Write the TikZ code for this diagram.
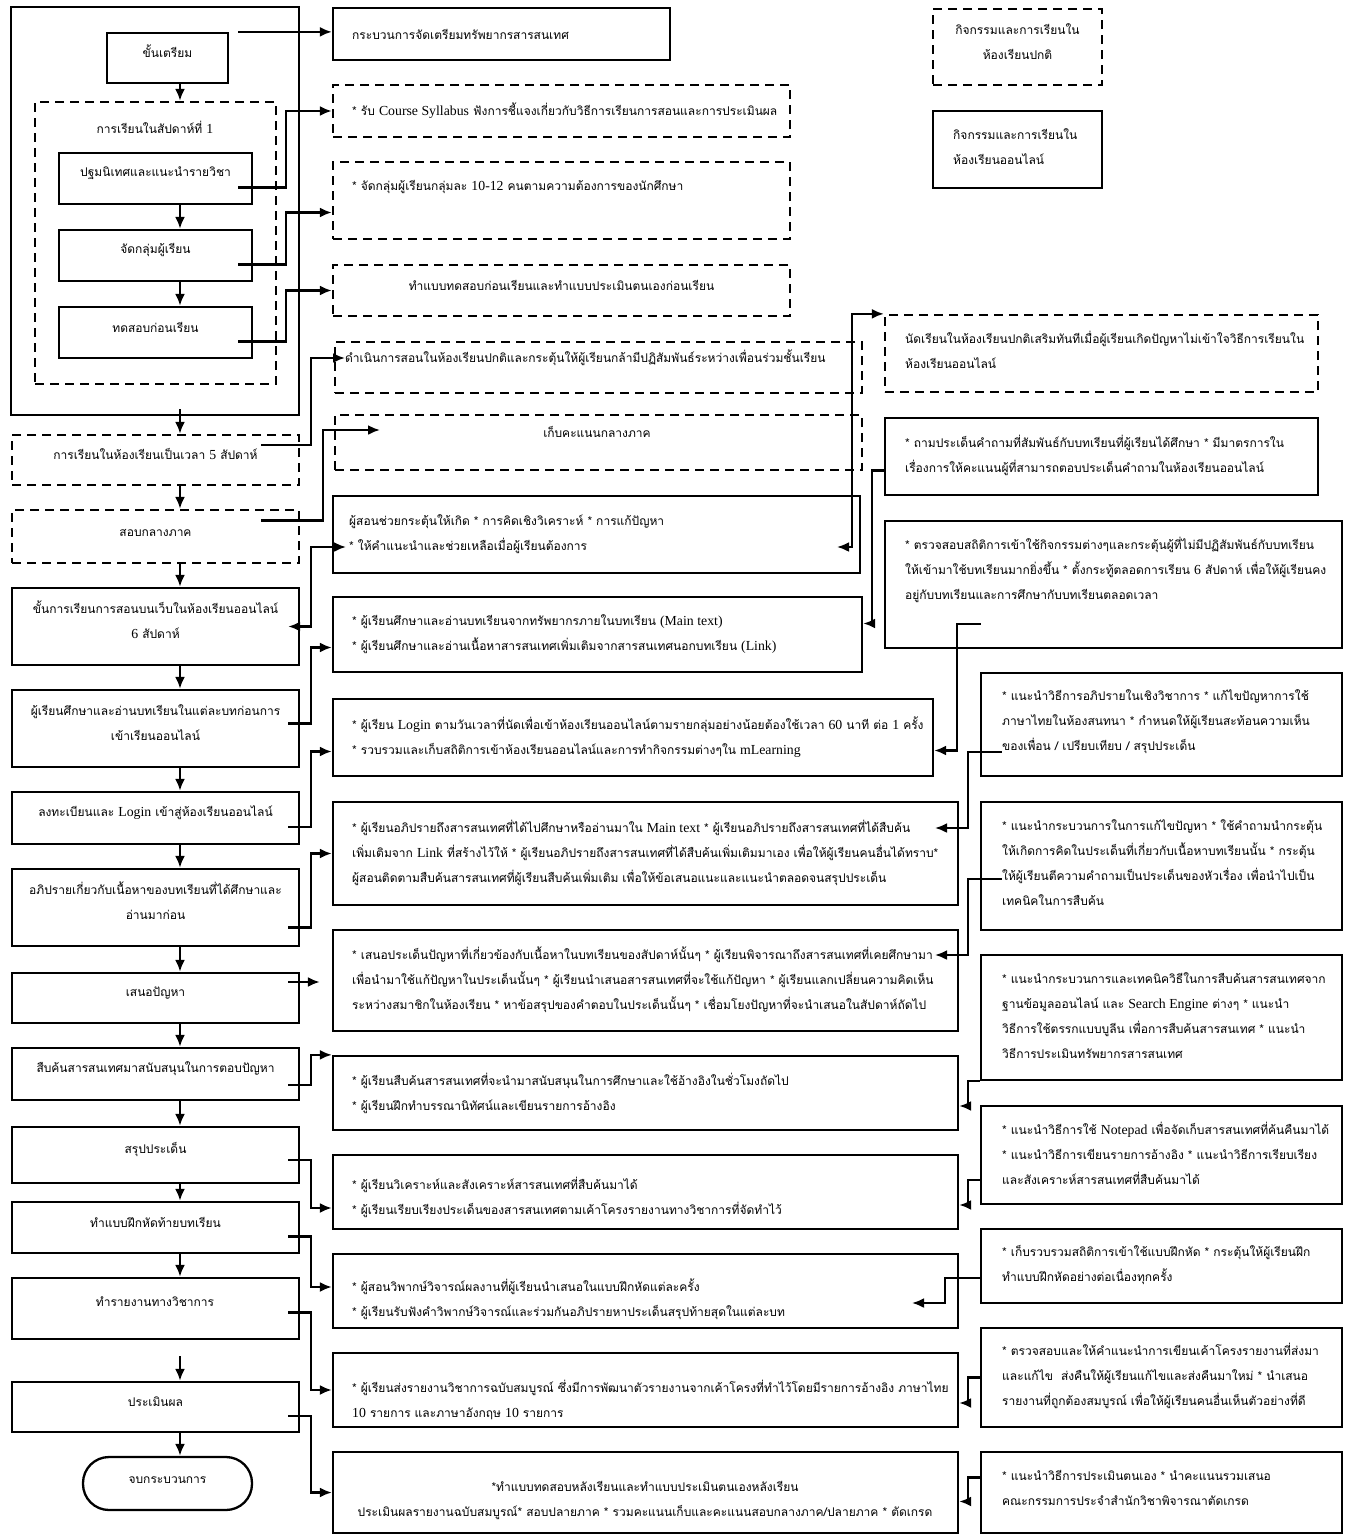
\documentclass[tikz,border=0pt]{standalone}
\usepackage{fontspec}
\setmainfont{Loma}[Script=Thai]
\newfontfamily\lat{Liberation Serif}[Scale=1.15]
\newcommand\en[1]{{\lat #1}}
\usetikzlibrary{arrows.meta,fit}

\tikzset{
  sbox/.style={draw, line width=2.3pt, inner sep=0pt, align=center},
  dbox/.style={sbox, dash pattern=on 9pt off 6pt},
  txt/.style={inner sep=0pt, anchor=west, align=left},
  ctxt/.style={inner sep=0pt, align=center},
  flow/.style={-{Latex[length=12pt,width=10pt]}, line width=2.3pt},
  flow2/.style={{Latex[length=12pt,width=10pt]}-{Latex[length=12pt,width=10pt]}, line width=2.3pt},
}

\begin{document}
\begin{tikzpicture}[x=1pt, y=-1pt, font=\fontsize{12}{25}\selectfont]
    \useasboundingbox (0,0) rectangle (1351,1540);
    \coordinate (ax) at (180,0);

    % left column
    \node[sbox, fit={(11,7)(299,415)}] (l0) {};
    \node[sbox, fit={(107,33)(228,83)}] (l1) {ขั้นเตรียม};
    \node[dbox, fit={(35,102)(276,384)}] (wk) {};
    \node[ctxt] (wkt) at (155,127) {การเรียนในสัปดาห์ที่ \en{1}};
    \node[sbox, fit={(59,153)(252,204)}] (l2) {ปฐมนิเทศและแนะนำรายวิชา};
    \node[sbox, fit={(59,230)(252,281)}] (l3) {จัดกลุ่มผู้เรียน};
    \node[sbox, fit={(59,307)(252,358)}] (l4) {ทดสอบก่อนเรียน};
    \node[dbox, fit={(12,435)(299,485)}] (l5) {การเรียนในห้องเรียนเป็นเวลา \en{5} สัปดาห์};
    \node[dbox, fit={(12,510)(299,563)}] (l6) {สอบกลางภาค};
    \node[sbox, fit={(12,588)(299,665)}] (l7) {ขั้นการเรียนการสอนบนเว็บในห้องเรียนออนไลน์\\\en{6} สัปดาห์};
    \node[sbox, fit={(12,690)(299,767)}] (l8) {ผู้เรียนศึกษาและอ่านบทเรียนในแต่ละบทก่อนการ\\เข้าเรียนออนไลน์};
    \node[sbox, fit={(12,792)(299,844)}] (l9) {ลงทะเบียนและ \en{Login} เข้าสู่ห้องเรียนออนไลน์};
    \node[sbox, fit={(12,869)(299,946)}] (l10) {อภิปรายเกี่ยวกับเนื้อหาของบทเรียนที่ได้ศึกษาและ\\อ่านมาก่อน};
    \node[sbox, fit={(12,973)(299,1023)}] (l11) {เสนอปัญหา};
    \node[sbox, fit={(12,1048)(299,1100)}] (l12) {สืบค้นสารสนเทศมาสนับสนุนในการตอบปัญหา};
    \node[sbox, fit={(12,1127)(299,1183)}] (l13) {สรุปประเด็น};
    \node[sbox, fit={(12,1202)(299,1253)}] (l14) {ทำแบบฝึกหัดท้ายบทเรียน};
    \node[sbox, fit={(12,1278)(299,1339)}] (l15) {};
    \node[ctxt] (l15t) at (155,1302) {ทำรายงานทางวิชาการ};
    \node[sbox, fit={(12,1382)(299,1432)}] (l16) {ประเมินผล};
    \node[sbox, rounded corners=26pt, fit={(83,1457)(252,1510)}] (l17) {จบกระบวนการ};

    \foreach \a/\b in {l1/wk, l2/l3, l3/l4, l5/l6, l6/l7, l7/l8, l8/l9, l9/l10,
                       l10/l11, l11/l12, l12/l13, l13/l14, l14/l15, l16/l17}
      \draw[flow] (\a.south -| ax) -- (\b.north -| ax);
    \draw[flow] ([yshift=7pt]l0.south -| ax) -- (l5.north -| ax);
    \draw[flow] ([yshift=-16pt]l15.south -| ax) -- (l16.north -| ax);

    % middle column
    \node[sbox, fit={(333,8)(670,60)}] (m1) {};
    \node[txt] (m1t) at (352,34) {กระบวนการจัดเตรียมทรัพยากรสารสนเทศ};
    \node[dbox, fit={(333,85)(790,137)}] (m2) {};
    \node[txt] (m2t) at (352,111) {* รับ \en{Course Syllabus} ฟังการชี้แจงเกี่ยวกับวิธีการเรียนการสอนและการประเมินผล};
    \node[dbox, fit={(333,162)(790,239)}] (m3) {};
    \node[txt] (m3t) at (352,187) {* จัดกลุ่มผู้เรียนกลุ่มละ \en{10-12} คนตามความต้องการของนักศึกษา};
    \node[dbox, fit={(333,265)(790,316)}] (m4) {ทำแบบทดสอบก่อนเรียนและทำแบบประเมินตนเองก่อนเรียน};
    \node[dbox, fit={(335,342)(862,393)}] (m5) {};
    \node[txt] (m5t) at (345,358) {ดำเนินการสอนในห้องเรียนปกติและกระตุ้นให้ผู้เรียนกล้ามีปฏิสัมพันธ์ระหว่างเพื่อนร่วมชั้นเรียน};
    \node[dbox, fit={(335,415)(862,470)}] (m6) {};
    \node[ctxt] (m6t) at (597,432) {เก็บคะแนนกลางภาค};
    \node[sbox, fit={(333,496)(860,573)}] (m7) {};
    \node[txt] (m7t) at (349,534) {ผู้สอนช่วยกระตุ้นให้เกิด * การคิดเชิงวิเคราะห์ * การแก้ปัญหา\\* ให้คำแนะนำและช่วยเหลือเมื่อผู้เรียนต้องการ};
    \node[sbox, fit={(333,597)(862,672)}] (m8) {};
    \node[txt] (m8t) at (352,634) {* ผู้เรียนศึกษาและอ่านบทเรียนจากทรัพยากรภายในบทเรียน \en{(Main text)}\\* ผู้เรียนศึกษาและอ่านเนื้อหาสารสนเทศเพิ่มเติมจากสารสนเทศนอกบทเรียน \en{(Link)}};
    \node[sbox, fit={(333,699)(933,776)}] (m9) {};
    \node[txt] (m9t) at (352,737) {* ผู้เรียน \en{Login} ตามวันเวลาที่นัดเพื่อเข้าห้องเรียนออนไลน์ตามรายกลุ่มอย่างน้อยต้องใช้เวลา \en{60} นาที ต่อ \en{1} ครั้ง\\* รวบรวมและเก็บสถิติการเข้าห้องเรียนออนไลน์และการทำกิจกรรมต่างๆใน \en{mLearning}};
    \node[sbox, fit={(333,802)(958,905)}] (m10) {};
    \node[txt] (m10t) at (352,853) {* ผู้เรียนอภิปรายถึงสารสนเทศที่ได้ไปศึกษาหรืออ่านมาใน \en{Main text} * ผู้เรียนอภิปรายถึงสารสนเทศที่ได้สืบค้น\\เพิ่มเติมจาก \en{Link} ที่สร้างไว้ให้ * ผู้เรียนอภิปรายถึงสารสนเทศที่ได้สืบค้นเพิ่มเติมมาเอง เพื่อให้ผู้เรียนคนอื่นได้ทราบ*\\ผู้สอนติดตามสืบค้นสารสนเทศที่ผู้เรียนสืบค้นเพิ่มเติม เพื่อให้ข้อเสนอแนะและแนะนำตลอดจนสรุปประเด็น};
    \node[sbox, fit={(333,930)(958,1031)}] (m11) {};
    \node[txt] (m11t) at (352,980) {* เสนอประเด็นปัญหาที่เกี่ยวข้องกับเนื้อหาในบทเรียนของสัปดาห์นั้นๆ * ผู้เรียนพิจารณาถึงสารสนเทศที่เคยศึกษามา\\เพื่อนำมาใช้แก้ปัญหาในประเด็นนั้นๆ * ผู้เรียนนำเสนอสารสนเทศที่จะใช้แก้ปัญหา * ผู้เรียนแลกเปลี่ยนความคิดเห็น\\ระหว่างสมาชิกในห้องเรียน * หาข้อสรุปของคำตอบในประเด็นนั้นๆ * เชื่อมโยงปัญหาที่จะนำเสนอในสัปดาห์ถัดไป};
    \node[sbox, fit={(333,1056)(958,1130)}] (m12) {};
    \node[txt] (m12t) at (352,1093) {* ผู้เรียนสืบค้นสารสนเทศที่จะนำมาสนับสนุนในการศึกษาและใช้อ้างอิงในชั่วโมงถัดไป\\* ผู้เรียนฝึกทำบรรณานิทัศน์และเขียนรายการอ้างอิง};
    \node[sbox, fit={(333,1155)(958,1229)}] (m13) {};
    \node[txt] (m13t) at (352,1197) {* ผู้เรียนวิเคราะห์และสังเคราะห์สารสนเทศที่สืบค้นมาได้\\* ผู้เรียนเรียบเรียงประเด็นของสารสนเทศตามเค้าโครงรายงานทางวิชาการที่จัดทำไว้};
    \node[sbox, fit={(333,1254)(958,1328)}] (m14) {};
    \node[txt] (m14t) at (352,1299) {* ผู้สอนวิพากษ์วิจารณ์ผลงานที่ผู้เรียนนำเสนอในแบบฝึกหัดแต่ละครั้ง\\* ผู้เรียนรับฟังคำวิพากษ์วิจารณ์และร่วมกันอภิปรายหาประเด็นสรุปท้ายสุดในแต่ละบท};
    \node[sbox, fit={(333,1353)(958,1427)}] (m15) {};
    \node[txt] (m15t) at (352,1400) {* ผู้เรียนส่งรายงานวิชาการฉบับสมบูรณ์ ซึ่งมีการพัฒนาตัวรายงานจากเค้าโครงที่ทำไว้โดยมีรายการอ้างอิง ภาษาไทย\\\en{10} รายการ และภาษาอังกฤษ \en{10} รายการ};
    \node[sbox, fit={(333,1452)(958,1533)}] (m16) {};
    \node[ctxt] (m16t) at (645,1500) {*ทำแบบทดสอบหลังเรียนและทำแบบประเมินตนเองหลังเรียน\\ประเมินผลรายงานฉบับสมบูรณ์* สอบปลายภาค * รวมคะแนนเก็บและคะแนนสอบกลางภาค/ปลายภาค * ตัดเกรด};

    % right column
    \node[dbox, fit={(933,9)(1102,85)}] (lg1) {กิจกรรมและการเรียนใน\\ห้องเรียนปกติ};
    \node[sbox, fit={(933,111)(1102,188)}] (lg2) {};
    \node[txt] (lg2t) at (953,147) {กิจกรรมและการเรียนใน\\ห้องเรียนออนไลน์};
    \node[dbox, fit={(885,315)(1318,392)}] (r1) {};
    \node[txt] (r1t) at (905,350) {นัดเรียนในห้องเรียนปกติเสริมทันทีเมื่อผู้เรียนเกิดปัญหาไม่เข้าใจวิธีการเรียนใน\\ห้องเรียนออนไลน์};
    \node[sbox, fit={(885,418)(1318,495)}] (r2) {};
    \node[txt] (r2t) at (905,455) {* ถามประเด็นคำถามที่สัมพันธ์กับบทเรียนที่ผู้เรียนได้ศึกษา * มีมาตรการใน\\เรื่องการให้คะแนนผู้ที่สามารถตอบประเด็นคำถามในห้องเรียนออนไลน์};
    \node[sbox, fit={(885,521)(1342,648)}] (r3) {};
    \node[txt] (r3t) at (905,570) {* ตรวจสอบสถิติการเข้าใช้กิจกรรมต่างๆและกระตุ้นผู้ที่ไม่มีปฏิสัมพันธ์กับบทเรียน\\ให้เข้ามาใช้บทเรียนมากยิ่งขึ้น * ตั้งกระทู้ตลอดการเรียน \en{6} สัปดาห์ เพื่อให้ผู้เรียนคง\\อยู่กับบทเรียนและการศึกษากับบทเรียนตลอดเวลา};
    \node[sbox, fit={(981,673)(1342,776)}] (r4) {};
    \node[txt] (r4t) at (1002,722) {* แนะนำวิธีการอภิปรายในเชิงวิชาการ * แก้ไขปัญหาการใช้\\ภาษาไทยในห้องสนทนา * กำหนดให้ผู้เรียนสะท้อนความเห็น\\ของเพื่อน / เปรียบเทียบ / สรุปประเด็น};
    \node[sbox, fit={(981,802)(1342,930)}] (r5) {};
    \node[txt] (r5t) at (1002,863) {* แนะนำกระบวนการในการแก้ไขปัญหา * ใช้คำถามนำกระตุ้น\\ให้เกิดการคิดในประเด็นที่เกี่ยวกับเนื้อหาบทเรียนนั้น * กระตุ้น\\ให้ผู้เรียนตีความคำถามเป็นประเด็นของหัวเรื่อง เพื่อนำไปเป็น\\เทคนิคในการสืบค้น};
    \node[sbox, fit={(981,955)(1342,1080)}] (r6) {};
    \node[txt] (r6t) at (1002,1016) {* แนะนำกระบวนการและเทคนิควิธีในการสืบค้นสารสนเทศจาก\\ฐานข้อมูลออนไลน์ และ \en{Search Engine} ต่างๆ * แนะนำ\\วิธีการใช้ตรรกแบบบูลีน เพื่อการสืบค้นสารสนเทศ * แนะนำ\\วิธีการประเมินทรัพยากรสารสนเทศ};
    \node[sbox, fit={(981,1106)(1342,1204)}] (r7) {};
    \node[txt] (r7t) at (1002,1153) {* แนะนำวิธีการใช้ \en{Notepad} เพื่อจัดเก็บสารสนเทศที่ค้นคืนมาได้\\* แนะนำวิธีการเขียนรายการอ้างอิง * แนะนำวิธีการเรียบเรียง\\และสังเคราะห์สารสนเทศที่สืบค้นมาได้};
    \node[sbox, fit={(981,1229)(1342,1303)}] (r8) {};
    \node[txt] (r8t) at (1002,1265) {* เก็บรวบรวมสถิติการเข้าใช้แบบฝึกหัด * กระตุ้นให้ผู้เรียนฝึก\\ทำแบบฝึกหัดอย่างต่อเนื่องทุกครั้ง};
    \node[sbox, fit={(981,1328)(1342,1427)}] (r9) {};
    \node[txt] (r9t) at (1002,1376) {* ตรวจสอบและให้คำแนะนำการเขียนเค้าโครงรายงานที่ส่งมา\\และแก้ไข~ ส่งคืนให้ผู้เรียนแก้ไขและส่งคืนมาใหม่ * นำเสนอ\\รายงานที่ถูกต้องสมบูรณ์ เพื่อให้ผู้เรียนคนอื่นเห็นตัวอย่างที่ดี};
    \node[sbox, fit={(981,1452)(1342,1533)}] (r10) {};
    \node[txt] (r10t) at (1002,1488) {* แนะนำวิธีการประเมินตนเอง * นำคะแนนรวมเสนอ\\คณะกรรมการประจำสำนักวิชาพิจารณาตัดเกรด};

    % arrow ends inside boxes
    \coordinate (m6in) at (380,430);
    \coordinate (m7in) at (346,547);
    \coordinate (m7out) at (837,547);
    \coordinate (m10in) at (935,828);
    \coordinate (m11in) at (935,955);
    \coordinate (m14in) at (912,1303);

    % left to middle
    \draw[flow] ([xshift=9pt]l1.north east) -- (l1.north east -| m1.west);
    \draw[flow] ([shift={(-15pt,-9pt)}]l2.east) -- ++(48,0) |- (m2.west);
    \draw[flow] ([shift={(-15pt,-9pt)}]l3.east) -- ++(48,0) |- ([yshift=-12pt]m3.west);
    \draw[flow] ([shift={(-15pt,-9pt)}]l4.east) -- ++(48,0) |- (m4.west);
    \draw[flow] ([shift={(-39pt,15pt)}]l5.east) -- ++(50,0) |- (m5t.west);
    \draw[flow] ([shift={(-39pt,16pt)}]l6.east) -- ++(62,0) |- (m6in);
    \draw[flow2] ([xshift=-12pt]l7.east) -- ++(23,0) |- (m7in);
    \draw[flow] ([shift={(-12pt,5pt)}]l8.east) -- ++(23,0) |- ([yshift=-13pt]m8.west);
    \draw[flow] ([shift={(-12pt,-9pt)}]l9.east) -- ++(23,0) |- ([yshift=-14pt]m9.west);
    \draw[flow] ([shift={(-12pt,-20pt)}]l10.east) -- ++(23,0) |- (m10.west);
    \draw[flow] ([shift={(-12pt,16pt)}]l11.east) -- ([shift={(-12pt,16pt)}]l11.east -| m11.west);
    \draw[flow] ([shift={(-12pt,-11pt)}]l12.east) -- ++(23,0) |- (m12.north west);
    \draw[flow] ([shift={(-12pt,-5pt)}]l13.east) -- ++(23,0) |- ([yshift=-16pt]m13.west);
    \draw[flow] ([shift={(-12pt,-9pt)}]l14.east) -- ++(23,0) |- ([yshift=4pt]m14.west);
    \draw[flow] ([shift={(-12pt,-4pt)}]l15.east) -- ++(23,0) |- (m15.west);
    \draw[flow] ([shift={(-12pt,-9pt)}]l16.east) -- ++(23,0) |- (m16.west);

    % right to middle
    \draw[flow2] (m7out) -- ++(15,0) |- (r1.north west);
    \draw[flow] ([yshift=-14pt]r2.west) -- ++(-12,0) |- ([yshift=11pt]m8.east);
    \draw[flow] ([shift={(97pt,25pt)}]r3.south west) -- ++(-24,0) |- ([yshift=-13pt]m9.east);
    \draw[flow] ([shift={(22pt,25pt)}]r4.south west) -- ++(-34,0) |- (m10in);
    \draw[flow] ([shift={(22pt,52pt)}]r5.south west) -- ++(-34,0) |- (m11in);
    \draw[flow] (r6.south west) -- ++(-12,0) |- ([yshift=-13pt]m12.east);
    \draw[flow] ([yshift=-25pt]r7.west) -- ++(-12,0) |- ([yshift=-13pt]m13.east);
    \draw[flow] ([yshift=-12pt]r8.west) -- ++(-35,0) |- (m14in);
    \draw[flow] (r9.west) -- ++(-12,0) |- ([yshift=-13pt]m15.east);
    \draw[flow] ([yshift=15pt]r10.west) -- ++(-12,0) |- ([yshift=-9pt]m16.east);
\end{tikzpicture}
\end{document}
